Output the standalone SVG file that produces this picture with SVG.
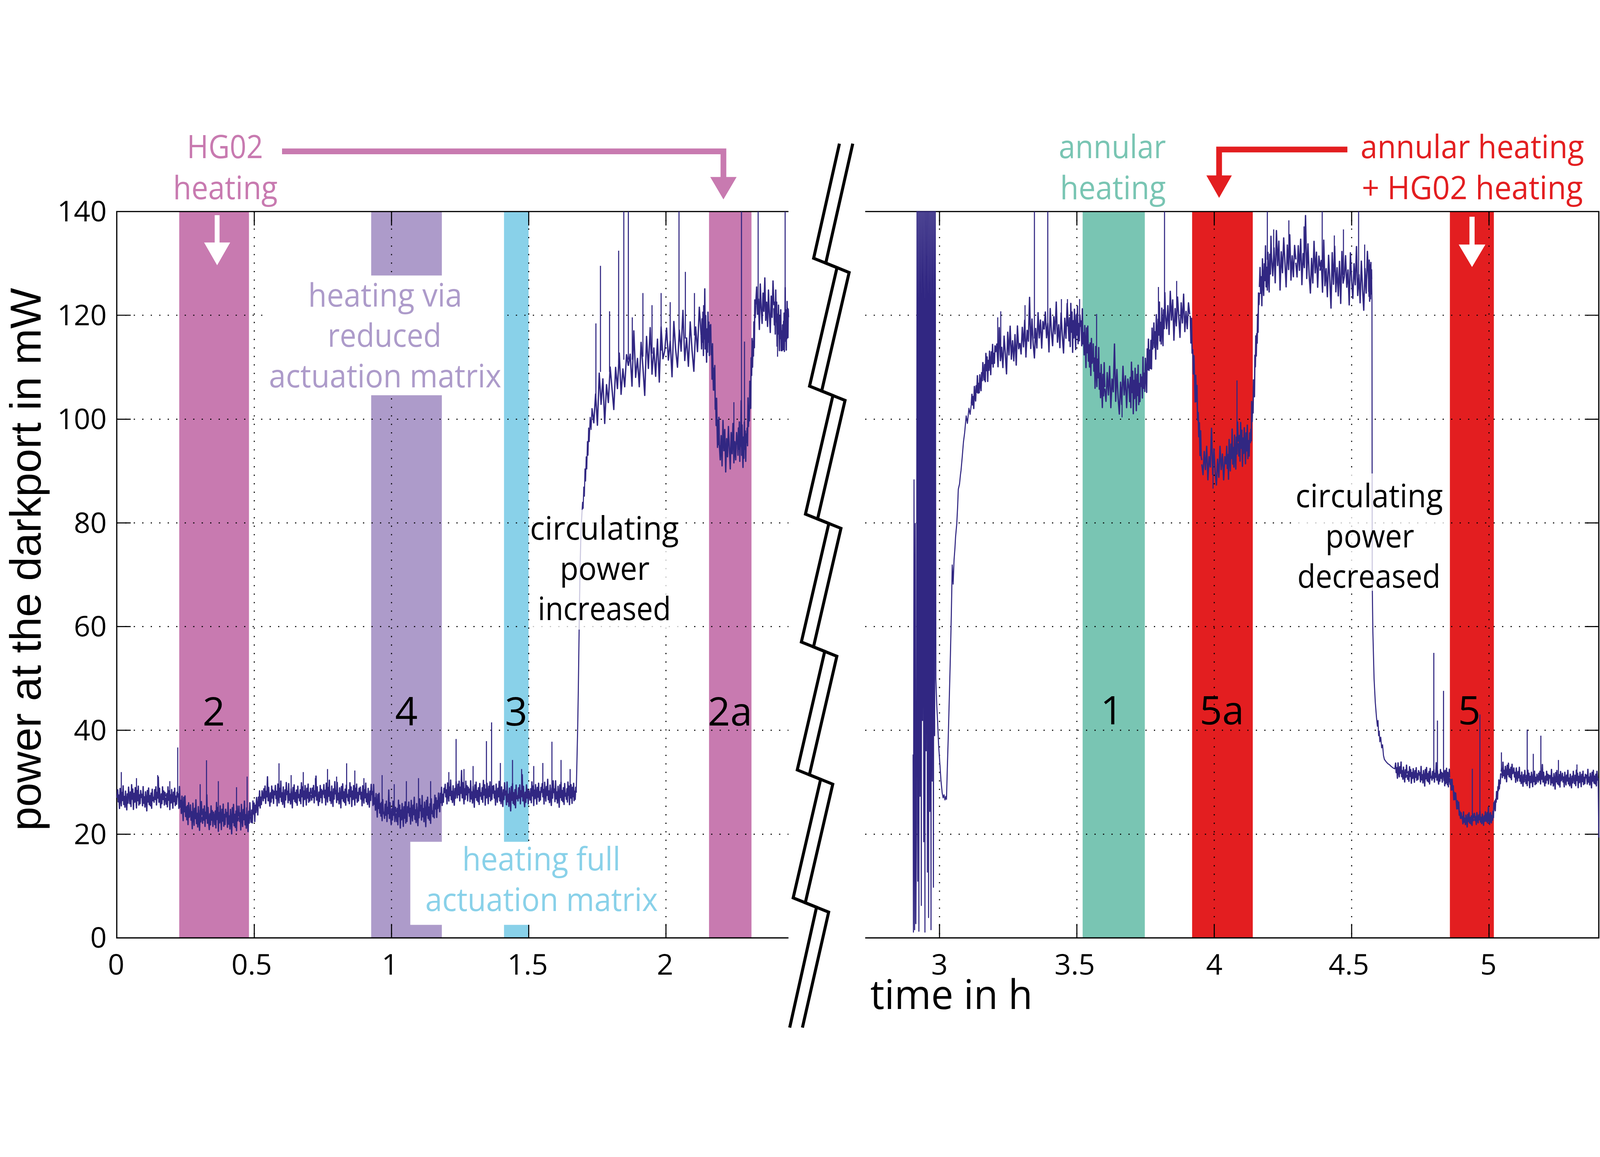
<svg xmlns="http://www.w3.org/2000/svg" xmlns:xlink="http://www.w3.org/1999/xlink" width="5276" height="2963" viewBox="0 0 5276 2963">
<style>
svg{width:100vw;height:100vh;display:block}
.bm{fill:#C87AB0}.bp{fill:#AD9BCA}.bc{fill:#89D1E9}.bt{fill:#79C5B3}.br{fill:#E31E20}
.grid{fill:none;stroke:#000;stroke-width:3.5;stroke-dasharray:4 24}
.axis{fill:none;stroke:#000;stroke-width:4}
.tick{fill:none;stroke:#000;stroke-width:3.5}
.trace{fill:none;stroke:#312782;stroke-width:3.5;stroke-linejoin:round}
text{font-family:"Open Sans","Noto Sans","Liberation Sans",sans-serif}
.tl{font-size:95px;fill:#000}
.ann{font-size:105px}
.num{font-size:130px;fill:#000;text-anchor:middle}
.mid{text-anchor:middle}
.cm{fill:#C87AB0}.cp{fill:#AD9BCA}.cc{fill:#89D1E9}.ct{fill:#79C5B3}.cr{fill:#E31E20}.ck{fill:#000}
.brk{fill:none;stroke:#000;stroke-width:10;stroke-linejoin:miter}
.ylab{font-family:"Liberation Sans","Open Sans",sans-serif;font-size:144px;fill:#000}
</style>
<defs>
<path id="n1" fill="none" stroke="#312782" stroke-width="3.5" vector-effect="non-scaling-stroke" stroke-linejoin="round" d="M0,0 L2,-6 4,3 6,-2 8,8 10,-7 12,1 14,6 16,-4 18,2 20,-9 22,5 24,-1 26,7 28,-5 30,3 32,9 34,-3 36,4 38,-8 40,0"/>
<path id="n2" fill="none" stroke="#312782" stroke-width="3.5" vector-effect="non-scaling-stroke" stroke-linejoin="round" d="M0,0 L2,5 4,-3 6,7 8,-8 10,2 12,-5 14,9 16,-2 18,4 20,-6 22,1 24,8 26,-4 28,3 30,-7 32,6 34,-1 36,5 38,-4 40,0"/>
<path id="n3" fill="none" stroke="#312782" stroke-width="3.5" vector-effect="non-scaling-stroke" stroke-linejoin="round" d="M0,0 L2,-3 4,6 6,-9 8,4 10,-1 12,7 14,-5 16,2 18,10 20,-6 22,3 24,-8 26,5 28,-2 30,6 32,-4 34,8 36,-7 38,2 40,0"/>
<path id="n4" fill="none" stroke="#312782" stroke-width="3.5" vector-effect="non-scaling-stroke" stroke-linejoin="round" d="M0,0 L2,4 4,-5 6,2 8,-7 10,6 12,-3 14,1 16,-14 18,4 20,-6 22,3 24,8 26,-2 28,5 30,-7 32,2 34,-4 36,6 38,-3 40,0"/>
</defs>
<rect x="0" y="0" width="5276" height="2963" fill="#fff"/>

<g id="bands">
<rect class="bm" x="591" y="271" width="230" height="2396"/>
<rect class="bp" x="1224" y="271" width="233" height="2396"/>
<rect class="bc" x="1662" y="271" width="81" height="2396"/>
<rect class="bm" x="2338" y="271" width="140" height="2396"/>
<rect class="bt" x="3570" y="271" width="205" height="2396"/>
<rect class="br" x="3931" y="271" width="200" height="2396"/>
<rect class="br" x="4781" y="271" width="145" height="2396"/>
</g>

<g id="grid">
<path class="grid" d="M385,2325 H2600 M385,1982 H2600 M385,1640 H2600 M385,1298 H2600 M385,956 H2600 M385,613 H2600"/>
<path class="grid" d="M838.5,271 V2667 M1291,271 V2667 M1743.5,271 V2667 M2196,271 V2667"/>
<path class="grid" d="M2853,2325 H5272 M2853,1982 H5272 M2853,1640 H5272 M2853,1298 H5272 M2853,956 H5272 M2853,613 H5272"/>
<path class="grid" d="M3098,271 V2667 M3551,271 V2667 M4004,271 V2667 M4457,271 V2667 M4910,271 V2667"/>
</g>

<g id="axes">
<path class="axis" d="M2600,271 H385 V2667 H2600"/>
<path class="axis" d="M2853,271 H5272 V2667 H2853"/>
<path class="tick" d="M838.5,2667 V2621 M1291,2667 V2621 M1743.5,2667 V2621 M2196,2667 V2621 M838.5,271 V317 M1291,271 V317 M1743.5,271 V317 M2196,271 V317 M385,2325 H431 M385,1982 H431 M385,1640 H431 M385,1298 H431 M385,956 H431 M385,613 H431"/>
<path class="tick" d="M3098,2667 V2621 M3551,2667 V2621 M4004,2667 V2621 M4457,2667 V2621 M4910,2667 V2621 M3098,271 V317 M3551,271 V317 M4004,271 V317 M4457,271 V317 M4910,271 V317 M5272,2325 H5226 M5272,1982 H5226 M5272,1640 H5226 M5272,1298 H5226 M5272,956 H5226 M5272,613 H5226"/>
</g>

<g id="trace-left">
<use xlink:href="#n1" transform="matrix(1 0 0 4.4 386 2205)"/>
<use xlink:href="#n2" transform="matrix(1 0 0 4.8 426 2200)"/>
<use xlink:href="#n3" transform="matrix(1 0 0 4.2 466 2206)"/>
<use xlink:href="#n4" transform="matrix(1 0 0 4.6 506 2201)"/>
<use xlink:href="#n2" transform="matrix(1 0 0 4.4 546 2204)"/>
<use xlink:href="#n3" transform="matrix(1 1.45 0 5 586 2204)"/>
<use xlink:href="#n1" transform="matrix(1 0 0 5.6 626 2262)"/>
<use xlink:href="#n4" transform="matrix(1 0 0 5.2 666 2268)"/>
<use xlink:href="#n2" transform="matrix(1 0 0 5.6 706 2265)"/>
<use xlink:href="#n3" transform="matrix(1 0 0 5.4 746 2270)"/>
<use xlink:href="#n1" transform="matrix(1 0 0 5.6 786 2266)"/>
<use xlink:href="#n2" transform="matrix(1 -1.725 0 4.6 826 2266)"/>
<use xlink:href="#n4" transform="matrix(1 0 0 4.4 866 2197)"/>
<use xlink:href="#n1" transform="matrix(1 0 0 4.8 906 2193)"/>
<use xlink:href="#n3" transform="matrix(1 0 0 4.2 946 2196)"/>
<use xlink:href="#n2" transform="matrix(1 0 0 4.6 986 2192)"/>
<use xlink:href="#n4" transform="matrix(1 0 0 4.4 1026 2195)"/>
<use xlink:href="#n1" transform="matrix(1 0 0 4.8 1066 2190)"/>
<use xlink:href="#n3" transform="matrix(1 0 0 4.4 1106 2194)"/>
<use xlink:href="#n2" transform="matrix(1 0 0 4.6 1146 2192)"/>
<use xlink:href="#n1" transform="matrix(1 0 0 4.4 1186 2196)"/>
<use xlink:href="#n3" transform="matrix(1 1.35 0 4.8 1226 2196)"/>
<use xlink:href="#n4" transform="matrix(1 0 0 5.2 1266 2252)"/>
<use xlink:href="#n2" transform="matrix(1 0 0 5.4 1306 2256)"/>
<use xlink:href="#n1" transform="matrix(1 0 0 5.2 1346 2250)"/>
<use xlink:href="#n3" transform="matrix(1 0 0 5.4 1386 2246)"/>
<use xlink:href="#n2" transform="matrix(1 -1.4 0 4.8 1426 2246)"/>
<use xlink:href="#n1" transform="matrix(1 0 0 4.6 1466 2188)"/>
<use xlink:href="#n4" transform="matrix(1 0 0 5 1506 2185)"/>
<use xlink:href="#n3" transform="matrix(1 0 0 4.6 1546 2190)"/>
<use xlink:href="#n2" transform="matrix(1 0 0 4.8 1586 2186)"/>
<use xlink:href="#n1" transform="matrix(1 0 0 4.6 1626 2192)"/>
<use xlink:href="#n3" transform="matrix(1 0 0 5 1666 2198)"/>
<use xlink:href="#n4" transform="matrix(1 0 0 4.8 1706 2196)"/>
<use xlink:href="#n2" transform="matrix(1 0 0 4.6 1746 2189)"/>
<use xlink:href="#n1" transform="matrix(1 0 0 4.8 1786 2187)"/>
<use xlink:href="#n3" transform="matrix(1 0 0 4.6 1826 2190)"/>
<use xlink:href="#n2" transform="matrix(0.85 0 0 4.4 1866 2188)"/>
<path class="trace" d="M1900,2188 L1901,2150 1903,2060 1905,1969 1907,1850 1909,1700 1911,1560 1913,1440 1915,1360 1917,1300 1919,1266 1921,1230 1923,1250 1925,1180 1927,1210 1929,1120 1931,1160 1933,1080 1935,1120 1937,1030 1939,1075 1941,985 1943,1030 1946,950 1949,990 1952,920"/>
<use xlink:href="#n2" transform="matrix(3 -3.5 0 11 1952 920)"/>
<use xlink:href="#n3" transform="matrix(3 -1.25 0 12 2072 780)"/>
<use xlink:href="#n1" transform="matrix(3 -1.25 0 12 2192 730)"/>
<use xlink:href="#n4" transform="matrix(0.75 0 0 11 2312 680)"/>
<use xlink:href="#n1" transform="matrix(0.75 9 0 9 2342 680)"/>
<use xlink:href="#n2" transform="matrix(1.5 0 0 10 2372 1040)"/>
<use xlink:href="#n4" transform="matrix(0.75 0 0 10 2432 1035)"/>
<use xlink:href="#n3" transform="matrix(0.75 -11.375 0 9 2462 1035)"/>
<use xlink:href="#n1" transform="matrix(1.5 0 0 10 2492 580)"/>
<use xlink:href="#n2" transform="matrix(0.75 2.5 0 10 2552 590)"/>
<use xlink:href="#n4" transform="matrix(0.45 -1.75 0 10 2582 690)"/>
<path class="trace" d="M586,2203 V2039 M681,2265 V2081 M660,2265 V2160 M720,2265 V2150 M780,2265 V2170 M815,2265 V2135 M400,2200 V2120 M450,2200 V2140 M520,2200 V2130 M560,2200 V2150 M920,2195 V2091 M960,2195 V2130 M1000,2195 V2120 M1040,2195 V2140 M1080,2195 V2110 M1110,2195 V2135 M1143,2195 V2091 M1170,2195 V2115 M1200,2195 V2140 M1260,2250 V2130 M1300,2250 V2160 M1340,2250 V2150 M1380,2250 V2140 M1420,2250 V2150 M1480,2190 V2120 M1504,2190 V2011 M1530,2190 V2110 M1560,2190 V2100 M1604,2190 V2018 M1621,2190 V1956 M1650,2190 V2090 M1690,2200 V2080 M1720,2200 V2110 M1760,2190 V2100 M1790,2190 V2090 M1820,2190 V2020 M1850,2190 V2080 M1880,2190 V2110 M1965,900 V640 M1980,800 V450 M2010,800 V600 M2040,770 V400 M2057,760 V271 M2072,760 V271 M2085,760 V620 M2120,750 V540 M2150,740 V580 M2180,730 V540 M2210,720 V570 M2239,700 V271 M2260,690 V470 M2290,680 V540 M2320,680 V580 M2445,1050 V271 M2455,1050 V700 M2420,1050 V900 M2500,570 V271 M2564,620 V750 M2589,640 V271"/>
</g>

<g id="trace-right">
<path class="trace" d="M3011,2062 L3012,2648 3014,1156 3016,2640 3018,1300 3020,2620 3022,2300 3024,271 3026,2480 3028,271 3030,2645 3032,271 3034,2200 3036,271 3038,2560 3040,271 3042,1950 3044,271 3046,2350 3048,271 3050,2648 3052,271 3054,2050 3056,271 3058,2450 3060,271 3062,2600 3064,271 3066,2250 3068,271 3070,2640 3072,271 3074,2150 3076,271 3078,2500 3080,271 3082,2000 3084,271 3086,1812 3089,1900 3092,1960 3095,2030 3099,2090 3103,2150 3107,2190 3110,2205 3113,2195 3116,2212 3119,2200 3121,2210 3124,2100 3127,2000 3131,1850 3134,1734 3137,1600 3140,1437 3143,1500 3146,1420 3149,1380 3151,1344 3155,1300 3158,1240 3160,1187 3164,1170 3167,1140 3169,1125 3173,1080 3177,1031 3181,1000 3186,945 3190,970 3195,920 3199,940 3203,906"/>
<use xlink:href="#n1" transform="matrix(1 -2.65 0 4.5 3203 906)"/>
<use xlink:href="#n2" transform="matrix(1 -1.625 0 6 3243 800)"/>
<use xlink:href="#n3" transform="matrix(2 -0.75 0 8.5 3283 735)"/>
<use xlink:href="#n4" transform="matrix(2 -1.125 0 9.5 3363 705)"/>
<use xlink:href="#n1" transform="matrix(2 -0.25 0 9.5 3443 660)"/>
<use xlink:href="#n2" transform="matrix(1 0 0 9.5 3523 650)"/>
<use xlink:href="#n3" transform="matrix(1 2.7 0 8.5 3563 652)"/>
<use xlink:href="#n1" transform="matrix(1 2.25 0 9.5 3603 760)"/>
<use xlink:href="#n4" transform="matrix(2 0 0 10.5 3643 855)"/>
<use xlink:href="#n2" transform="matrix(1 0 0 10 3723 848)"/>
<use xlink:href="#n3" transform="matrix(1 -3.75 0 8.5 3763 850)"/>
<use xlink:href="#n1" transform="matrix(1 -2.25 0 9.5 3803 700)"/>
<use xlink:href="#n2" transform="matrix(2 0 0 9.5 3843 610)"/>
<use xlink:href="#n3" transform="matrix(1 11.9 0 7 3923 615)"/>
<use xlink:href="#n4" transform="matrix(2 0 0 8.5 3963 1105)"/>
<use xlink:href="#n1" transform="matrix(1 -1.75 0 8.5 4043 1100)"/>
<use xlink:href="#n2" transform="matrix(1 0 0 8.5 4083 1035)"/>
<use xlink:href="#n3" transform="matrix(0.75 -12.4 0 7 4123 1035)"/>
<use xlink:href="#n1" transform="matrix(1 -2.3 0 10 4153 520)"/>
<use xlink:href="#n2" transform="matrix(2 0.1 0 11.5 4193 425)"/>
<use xlink:href="#n4" transform="matrix(2 0.325 0 11.5 4273 440)"/>
<use xlink:href="#n3" transform="matrix(2 0.475 0 11.5 4353 466)"/>
<use xlink:href="#n1" transform="matrix(2 0.25 0 11.5 4433 485)"/>
<use xlink:href="#n2" transform="matrix(0.25 0 0 8 4513 495)"/>
<path class="trace" d="M4523,495 L4524,562 4525,1500 4527,1656 4531,1812 4535,1890 4539,1940 4542,1969 4544,1950 4546,2000 4548,1985 4550,2020 4553,2005 4556,2040 4559,2030 4562,2065 4565,2078 4570,2085 4576,2092 4582,2096 4587,2101 4593,2106 4600,2110"/>
<use xlink:href="#n1" transform="matrix(1 0.375 0 3.4 4600 2110)"/>
<use xlink:href="#n2" transform="matrix(1 0 0 3.2 4640 2128)"/>
<use xlink:href="#n3" transform="matrix(1 0 0 3.4 4680 2132)"/>
<use xlink:href="#n4" transform="matrix(1 0 0 3.2 4720 2134)"/>
<use xlink:href="#n1" transform="matrix(0.5 0 0 3.4 4760 2138)"/>
<use xlink:href="#n2" transform="matrix(1 3.3 0 2.8 4780 2140)"/>
<use xlink:href="#n3" transform="matrix(1 0 0 2.6 4820 2275)"/>
<use xlink:href="#n1" transform="matrix(1 0 0 2.6 4860 2272)"/>
<use xlink:href="#n4" transform="matrix(0.5 0 0 2.6 4900 2272)"/>
<use xlink:href="#n2" transform="matrix(0.75 -3.55 0 2.8 4920 2272)"/>
<use xlink:href="#n3" transform="matrix(1 0 0 3.4 4950 2118)"/>
<use xlink:href="#n1" transform="matrix(1 0.4 0 3.2 4990 2125)"/>
<use xlink:href="#n2" transform="matrix(1 0 0 3.4 5030 2141)"/>
<use xlink:href="#n4" transform="matrix(1 0 0 3.2 5070 2140)"/>
<use xlink:href="#n3" transform="matrix(1 0 0 3.4 5110 2142)"/>
<use xlink:href="#n1" transform="matrix(1 0 0 3.2 5150 2143)"/>
<use xlink:href="#n2" transform="matrix(1 0 0 3.4 5190 2141)"/>
<use xlink:href="#n3" transform="matrix(1 0 0 3.2 5230 2140)"/>
<path class="trace" d="M5270,2140 L5272,2336 M3411,690 V271 M3455,660 V271 M3840,610 V271 M4179,430 V271 M4360,455 V271 M4480,485 V271 M3290,730 V620 M3300,730 V600 M3380,700 V580 M3500,650 V560 M3520,650 V560 M3560,650 V560 M3616,790 V609 M3700,850 V950 M3820,630 V520 M3880,610 V500 M4079,1040 V828 M4000,1110 V1185 M4200,430 V330 M4250,430 V300 M4300,440 V320 M4400,470 V350 M4430,480 V330 M4500,490 V380 M4728,2133 V1727 M4740,2133 V1950 M4760,2136 V1852 M4855,2273 V2109 M4880,2273 V1930 M4951,2118 V2055 M5036,2141 V1980 M5056,2141 V2060 M5081,2141 V2000 M5139,2141 V2080 M5200,2141 V2095"/>
</g>

<g id="label-reduced">
<rect x="878" y="482" width="782" height="395" fill="#fff"/>
<text class="ann cp mid" x="1270" y="584" textLength="508" lengthAdjust="spacingAndGlyphs">heating via</text>
<text class="ann cp mid" x="1268" y="717" textLength="375" lengthAdjust="spacingAndGlyphs">reduced</text>
<text class="ann cp mid" x="1270" y="851" textLength="766" lengthAdjust="spacingAndGlyphs">actuation matrix</text>
</g>
<g id="label-full">
<rect x="1353" y="2350" width="835" height="274" fill="#fff"/>
<text class="ann cc mid" x="1785" y="2444" textLength="522" lengthAdjust="spacingAndGlyphs">heating full</text>
<text class="ann cc mid" x="1786" y="2578" textLength="767" lengthAdjust="spacingAndGlyphs">actuation matrix</text>
</g>
<g id="label-increased">
<rect x="1746" y="1255" width="500" height="395" fill="#fff" fill-opacity="0.75"/>
<text class="ann ck mid" x="1993" y="1353" textLength="491" lengthAdjust="spacingAndGlyphs">circulating</text>
<text class="ann ck mid" x="1994" y="1486" textLength="296" lengthAdjust="spacingAndGlyphs">power</text>
<text class="ann ck mid" x="1993" y="1619" textLength="439" lengthAdjust="spacingAndGlyphs">increased</text>
</g>
<g id="label-decreased">
<rect x="4262" y="1135" width="506" height="387" fill="#fff" fill-opacity="0.75"/>
<text class="ann ck mid" x="4515" y="1246" textLength="486" lengthAdjust="spacingAndGlyphs">circulating</text>
<text class="ann ck mid" x="4517" y="1379" textLength="293" lengthAdjust="spacingAndGlyphs">power</text>
<text class="ann ck mid" x="4514" y="1512" textLength="472" lengthAdjust="spacingAndGlyphs">decreased</text>
</g>

<g id="band-numbers">
<text class="num" x="705" y="1967">2</text>
<text class="num" x="1340" y="1967">4</text>
<text class="num" x="1702" y="1967">3</text>
<text class="num" x="2407" y="1967">2a</text>
<text class="num" x="3666" y="1962">1</text>
<text class="num" x="4029" y="1962">5a</text>
<text class="num" x="4845" y="1962">5</text>
</g>

<g id="label-hg02">
<text class="ann cm mid" x="742" y="95" textLength="251" lengthAdjust="spacingAndGlyphs">HG02</text>
<text class="ann cm mid" x="743" y="230" textLength="345" lengthAdjust="spacingAndGlyphs">heating</text>
</g>
<g id="label-annular">
<text class="ann ct mid" x="3668" y="95" textLength="353" lengthAdjust="spacingAndGlyphs">annular</text>
<text class="ann ct mid" x="3670" y="230" textLength="349" lengthAdjust="spacingAndGlyphs">heating</text>
</g>
<g id="label-combined">
<text class="ann cr mid" x="4855" y="95" textLength="737" lengthAdjust="spacingAndGlyphs">annular heating</text>
<text class="ann cr mid" x="4855" y="230" textLength="729" lengthAdjust="spacingAndGlyphs">+ HG02 heating</text>
</g>

<g id="connectors">
<path d="M930,72.5 H2385.5 V160" fill="none" stroke="#C87AB0" stroke-width="19"/>
<polygon points="2342,157 2429,157 2385.5,231" fill="#C87AB0"/>
<path d="M4443,66.5 H4020 V155" fill="none" stroke="#E31E20" stroke-width="19"/>
<polygon points="3978,152 4062,152 4020,226" fill="#E31E20"/>
<path d="M716,283 V376" fill="none" stroke="#fff" stroke-width="16"/>
<polygon points="673,373 759,373 716,448" fill="#fff"/>
<path d="M4854,288 V383" fill="none" stroke="#fff" stroke-width="17"/>
<polygon points="4810,380 4898,380 4854,454" fill="#fff"/>
</g>

<g id="axis-break">
<polyline class="brk" points="2768,47 2683,425 2760,456 2669.5,847 2746.5,878 2656,1269 2733,1300 2642.5,1691 2719.5,1722 2629,2113 2706,2144 2615.5,2535 2692.5,2566 2604,2963"/>
<polyline class="brk" points="2812,47 2723,441 2800,472 2709.5,863 2786.5,894 2696,1285 2773,1316 2682.5,1707 2759.5,1738 2669,2129 2746,2160 2655.5,2551 2732.5,2582 2646,2963"/>
</g>

<g id="tick-labels">
<text class="tl" text-anchor="end" x="352" y="2700">0</text>
<text class="tl" text-anchor="end" x="352" y="2358">20</text>
<text class="tl" text-anchor="end" x="352" y="2015">40</text>
<text class="tl" text-anchor="end" x="352" y="1673">60</text>
<text class="tl" text-anchor="end" x="352" y="1331">80</text>
<text class="tl" text-anchor="end" x="352" y="989">100</text>
<text class="tl" text-anchor="end" x="352" y="646">120</text>
<text class="tl" text-anchor="end" x="352" y="304">140</text>
<text class="tl mid" x="383" y="2788">0</text>
<text class="tl mid" x="830" y="2788">0.5</text>
<text class="tl mid" x="1286" y="2788">1</text>
<text class="tl mid" x="1740" y="2788">1.5</text>
<text class="tl mid" x="2193" y="2788">2</text>
<text class="tl mid" x="3098" y="2788">3</text>
<text class="tl mid" x="3544" y="2788">3.5</text>
<text class="tl mid" x="4004" y="2788">4</text>
<text class="tl mid" x="4448" y="2788">4.5</text>
<text class="tl mid" x="4908" y="2788">5</text>
</g>

<g id="axis-titles">
<text x="2870" y="2902" font-size="135" fill="#000" textLength="535" lengthAdjust="spacingAndGlyphs">time in h</text>
<text class="ylab" transform="translate(134,2314) rotate(-90)" x="0" y="0" textLength="1791" lengthAdjust="spacingAndGlyphs">power at the darkport in mW</text>
</g>
</svg>
